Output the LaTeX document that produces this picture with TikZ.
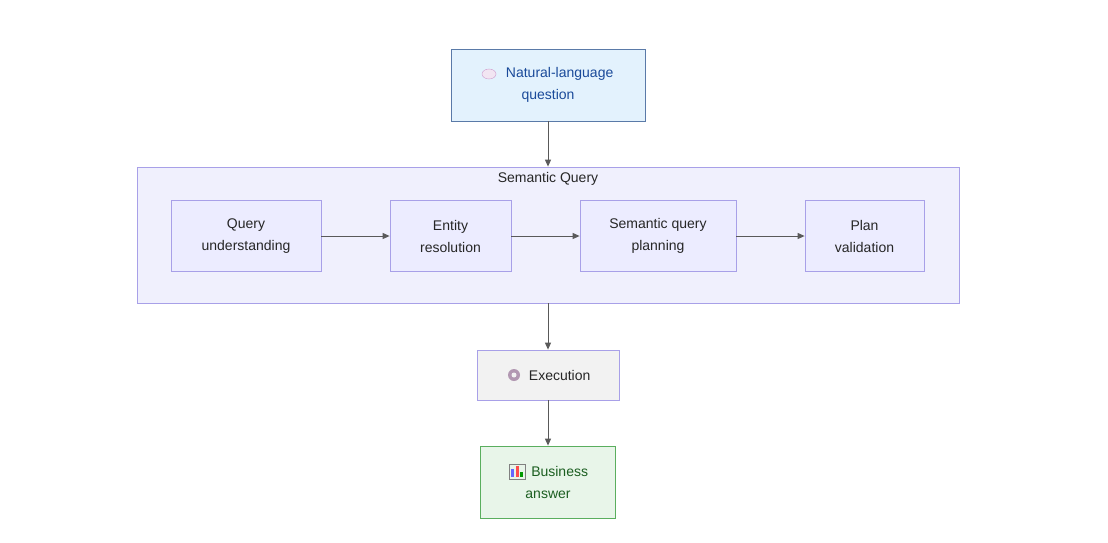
\documentclass[tikz,border=0pt]{standalone}
\usepackage{fontspec}
\setmainfont{Liberation Sans}
\usetikzlibrary{arrows.meta}
\definecolor{nodefill}{HTML}{ECECFF}
\definecolor{nodeline}{HTML}{A8A0E8}
\definecolor{sgfill}{HTML}{F0F0FD}
\definecolor{qfill}{HTML}{E3F2FD}
\definecolor{qline}{HTML}{5A7AA8}
\definecolor{qtext}{HTML}{1A4A9A}
\definecolor{afill}{HTML}{E8F5E9}
\definecolor{aline}{HTML}{5AAE5E}
\definecolor{atext}{HTML}{1B5E20}
\tikzset{
  x=1pt,y=-1pt,
  box/.style={draw=nodeline,fill=nodefill,line width=0.8pt,align=center,font=\fontsize{14}{22}\selectfont,text=black!85,inner sep=0},
  arr/.style={draw=black!65,line width=1pt,-{Triangle[length=7pt,width=6pt]}}
}
\begin{document}
\begin{tikzpicture}
\useasboundingbox (0,0) rectangle (1108,542);
\node[draw=nodeline,fill=sgfill,line width=0.8pt,minimum width=822,minimum height=136,inner sep=0] (sg) at (548,235) {};
\node[font=\fontsize{14}{16}\selectfont,text=black!85] (sgt) at (548,179) {Semantic Query};
\node[box,draw=qline,fill=qfill,text=qtext,minimum width=194,minimum height=72] (q) at (548,85) {\phantom{MM}Natural-language\\question};
\begin{scope}[shift={([xshift=-59pt,yshift=11pt]q.center)}]
\filldraw[draw=violet!40,fill=violet!10] (0,0) ellipse (7pt and 5pt);
\end{scope}
\node[box,minimum width=150,minimum height=71] (a) at (246,236) {Query\\understanding};
\node[box,minimum width=121,minimum height=71] (b) at (450.5,236) {Entity\\resolution};
\node[box,minimum width=156,minimum height=71] (c) at (658,236) {Semantic query\\planning};
\node[box,minimum width=119,minimum height=71] (d) at (864.5,236) {Plan\\validation};
\draw[arr] (a) -- (b);
\draw[arr] (b) -- (c);
\draw[arr] (c) -- (d);
\node[box,fill=black!5,draw=nodeline,minimum width=142,minimum height=50] (e) at (548,375) {\phantom{MM}Execution};
\fill[violet!35!gray!60] ([xshift=-34pt]e.center) circle (6pt);
\fill[black!5] ([xshift=-34pt]e.center) circle (2.5pt);
\node[box,fill=afill,draw=aline,text=atext,minimum width=135,minimum height=72] (f) at (548,482) {\phantom{MM}Business\\answer};
\begin{scope}[shift={([xshift=-31pt,yshift=11pt]f.center)}]
\draw[black!50] (-8,-7) rectangle (8,8);
\fill[blue!60] (-6,6) rectangle (-3,-2);
\fill[red!70] (-1.5,6) rectangle (1.5,-5);
\fill[green!60!black] (3,6) rectangle (6,1);
\end{scope}
\draw[arr] (q) -- (sg.north);
\draw[arr] (sg.south) -- (e);
\draw[arr] (e) -- (f);
\end{tikzpicture}
\end{document}
